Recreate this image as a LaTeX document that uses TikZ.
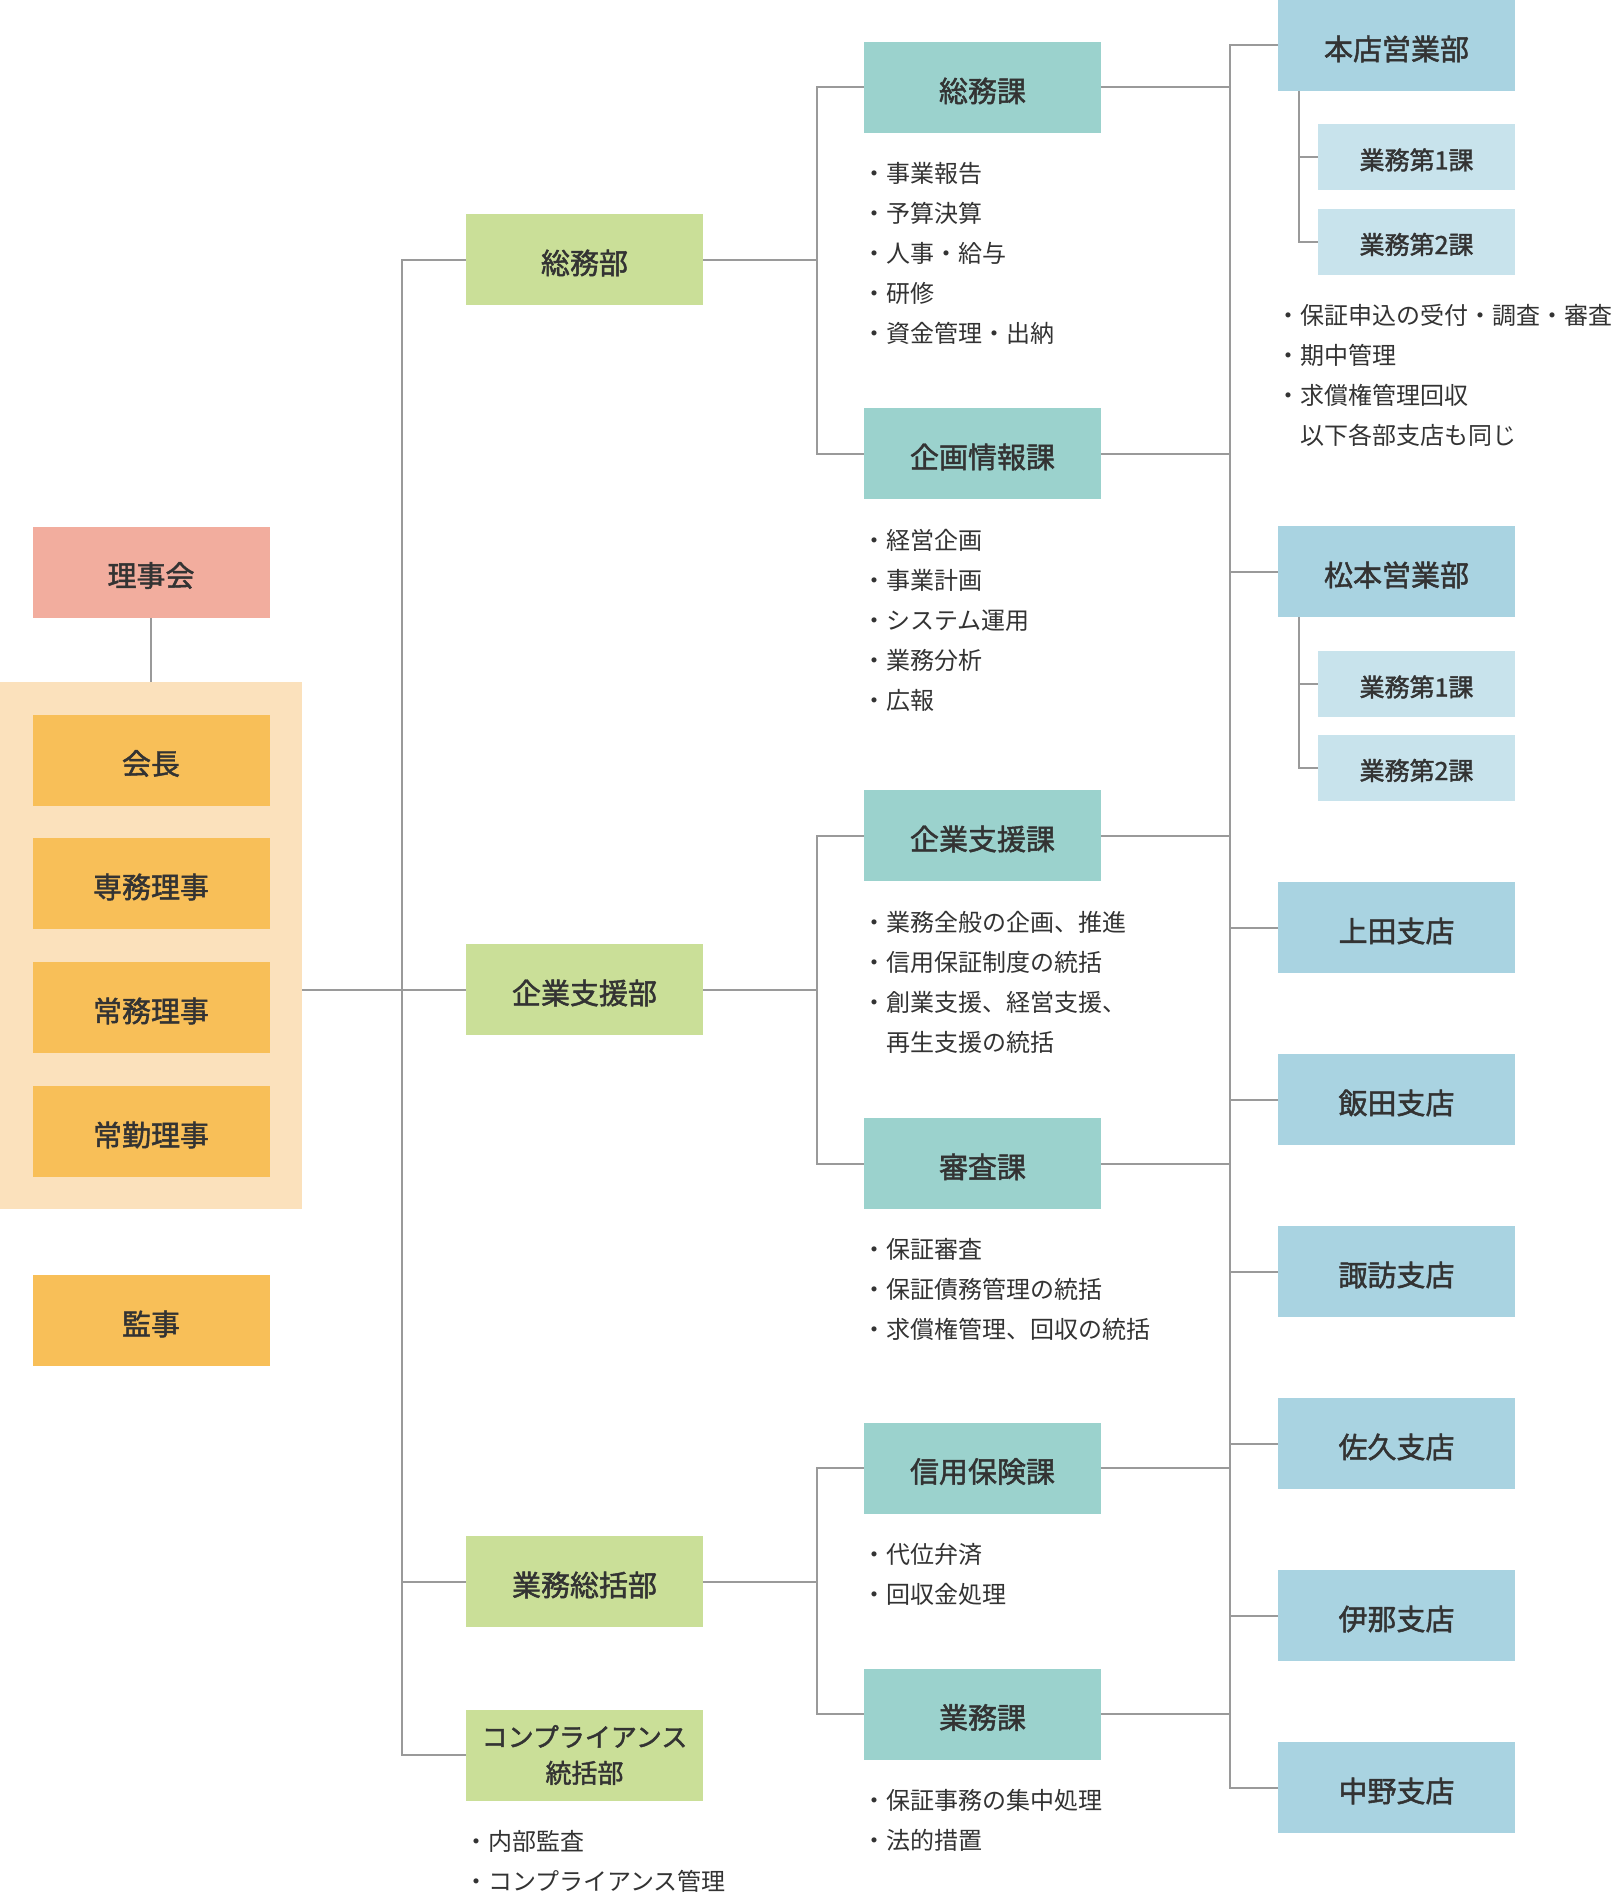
\documentclass[tikz,border=0pt]{standalone}
\usepackage{fontspec}
\setmainfont{Noto Sans CJK JP}
\newfontface\boxfont{Noto Sans CJK JP}[FakeBold=1.6]
\definecolor{rijicol}{HTML}{F2AD9E}
\definecolor{yakucol}{HTML}{F8BF58}
\definecolor{groupcol}{HTML}{FBE1BC}
\definecolor{bucol}{HTML}{CADF98}
\definecolor{kacol}{HTML}{9BD2CD}
\definecolor{tencol}{HTML}{A9D3E1}
\definecolor{subcol}{HTML}{C8E3EC}
\definecolor{linecol}{HTML}{9A9A9A}
\definecolor{txtcol}{HTML}{333333}
\begin{document}
\begin{tikzpicture}[x=0.5pt, y=-0.5pt,
    box/.style={minimum width=118.5pt, minimum height=45.5pt, inner sep=0pt, text=txtcol, text height=16.2pt, text depth=1.75pt, font=\boxfont\fontsize{14.5}{18}\selectfont},
    subbox/.style={box, fill=subcol, minimum width=98.5pt, minimum height=33pt, text height=14pt, text depth=1.5pt, font=\boxfont\fontsize{12.5}{15}\selectfont},
    note/.style={anchor=north west, inner sep=0pt, align=left, text=txtcol, font=\fontsize{12}{20}\selectfont},
    conn/.style={draw=linecol, line width=1pt}]
    \useasboundingbox (0,0) rectangle (1614,1900);
    % trunk positions
    \coordinate (t1) at (402,0);
    \coordinate (t2) at (817,0);
    \coordinate (t3) at (1230,0);
    \coordinate (t4) at (1299,0);
    % board and officers
    \node [box, fill=rijicol] (rijikai) at (151,572) {理事会};
    \node [fill=groupcol, minimum width=151pt, minimum height=263.5pt, inner sep=0pt] (yakuin) at (151,945.5) {};
    \node [box, fill=yakucol] (kaicho) at (151,760) {会長};
    \node [box, fill=yakucol] (senmu) at (151,883.5) {専務理事};
    \node [box, fill=yakucol] (jomu) at (151,1007.5) {常務理事};
    \node [box, fill=yakucol] (jokin) at (151,1131.5) {常勤理事};
    \node [box, fill=yakucol] (kanji) at (151,1320.5) {監事};
    % departments
    \node [box, fill=bucol] (somubu) at (584.5,259.5) {総務部};
    \node [box, fill=bucol] (kigyobu) at (584.5,989.5) {企業支援部};
    \node [box, fill=bucol] (gyomubu) at (584.5,1581.5) {業務総括部};
    \node [box, fill=bucol, text height=, text depth=, align=center, font=\boxfont\fontsize{13}{18}\selectfont] (compbu) at (584.5,1755) {コンプライアンス\\統括部};
    % sections
    \node [box, fill=kacol] (somuka) at (982.5,87.5) {総務課};
    \node [box, fill=kacol] (kikakuka) at (982.5,453.5) {企画情報課};
    \node [box, fill=kacol] (shienka) at (982.5,835.5) {企業支援課};
    \node [box, fill=kacol] (shinsaka) at (982.5,1163.5) {審査課};
    \node [box, fill=kacol] (hokenka) at (982.5,1468) {信用保険課};
    \node [box, fill=kacol] (gyomuka) at (982.5,1714) {業務課};
    % branches
    \node [box, fill=tencol] (honten) at (1396.5,45.5) {本店営業部};
    \node [subbox] (honten1) at (1416.5,157) {業務第1課};
    \node [subbox] (honten2) at (1416.5,241.5) {業務第2課};
    \node [box, fill=tencol] (matsumoto) at (1396.5,571.5) {松本営業部};
    \node [subbox] (matsu1) at (1416.5,684) {業務第1課};
    \node [subbox] (matsu2) at (1416.5,767.5) {業務第2課};
    \node [box, fill=tencol] (ueda) at (1396.5,927.5) {上田支店};
    \node [box, fill=tencol] (iida) at (1396.5,1099.5) {飯田支店};
    \node [box, fill=tencol] (suwa) at (1396.5,1271.5) {諏訪支店};
    \node [box, fill=tencol] (saku) at (1396.5,1443.5) {佐久支店};
    \node [box, fill=tencol] (ina) at (1396.5,1615.5) {伊那支店};
    \node [box, fill=tencol] (nakano) at (1396.5,1787.5) {中野支店};
    % duties
    \node [note] (somunote) at ([xshift=-1pt,yshift=-14.5pt]somuka.south west) {・事業報告\\・予算決算\\・人事・給与\\・研修\\・資金管理・出納};
    \node [note] (kikakunote) at ([xshift=-1pt,yshift=-14.5pt]kikakuka.south west) {・経営企画\\・事業計画\\・システム運用\\・業務分析\\・広報};
    \node [note] (shiennote) at ([xshift=-1pt,yshift=-14.5pt]shienka.south west) {・業務全般の企画、推進\\・信用保証制度の統括\\・創業支援、経営支援、\\\phantom{・}再生支援の統括};
    \node [note] (shinsanote) at ([xshift=-1pt,yshift=-14.5pt]shinsaka.south west) {・保証審査\\・保証債務管理の統括\\・求償権管理、回収の統括};
    \node [note] (hokennote) at ([xshift=-1pt,yshift=-14.5pt]hokenka.south west) {・代位弁済\\・回収金処理};
    \node [note] (gyomunote) at ([xshift=-1pt,yshift=-14.5pt]gyomuka.south west) {・保証事務の集中処理\\・法的措置};
    \node [note] (compnote) at ([xshift=-1pt,yshift=-14.75pt]compbu.south west) {・内部監査\\・コンプライアンス管理};
    \node [note] (tennote) at ([xshift=-1pt,yshift=-14.5pt]honten2.south -| honten.west) {・保証申込の受付・調査・審査\\・期中管理\\・求償権管理回収\\\phantom{・}以下各部支店も同じ};
    % connectors
    \draw [conn] (rijikai.south) -- (yakuin.north);
    \draw [conn] (kigyobu.west -| yakuin.east) -- (kigyobu.west);
    \draw [conn] (somubu.west) -- (somubu.west -| t1) -- (compbu.west -| t1) -- (compbu.west);
    \draw [conn] (gyomubu.west) -- (gyomubu.west -| t1);
    \draw [conn] (somubu.east) -- (somubu.east -| t2);
    \draw [conn] (somuka.west) -- (somuka.west -| t2) -- (kikakuka.west -| t2) -- (kikakuka.west);
    \draw [conn] (kigyobu.east) -- (kigyobu.east -| t2);
    \draw [conn] (shienka.west) -- (shienka.west -| t2) -- (shinsaka.west -| t2) -- (shinsaka.west);
    \draw [conn] (gyomubu.east) -- (gyomubu.east -| t2);
    \draw [conn] (hokenka.west) -- (hokenka.west -| t2) -- (gyomuka.west -| t2) -- (gyomuka.west);
    \draw [conn] (honten.west) -- (honten.west -| t3) -- (nakano.west -| t3) -- (nakano.west);
    \foreach \n in {somuka,kikakuka,shienka,shinsaka,hokenka,gyomuka}
        \draw [conn] (\n.east) -- (\n.east -| t3);
    \foreach \n in {matsumoto,ueda,iida,suwa,saku,ina}
        \draw [conn] (\n.west) -- (\n.west -| t3);
    \draw [conn] (honten.south -| t4) -- (honten2.west -| t4) -- (honten2.west);
    \draw [conn] (honten1.west -| t4) -- (honten1.west);
    \draw [conn] (matsumoto.south -| t4) -- (matsu2.west -| t4) -- (matsu2.west);
    \draw [conn] (matsu1.west -| t4) -- (matsu1.west);
\end{tikzpicture}
\end{document}
